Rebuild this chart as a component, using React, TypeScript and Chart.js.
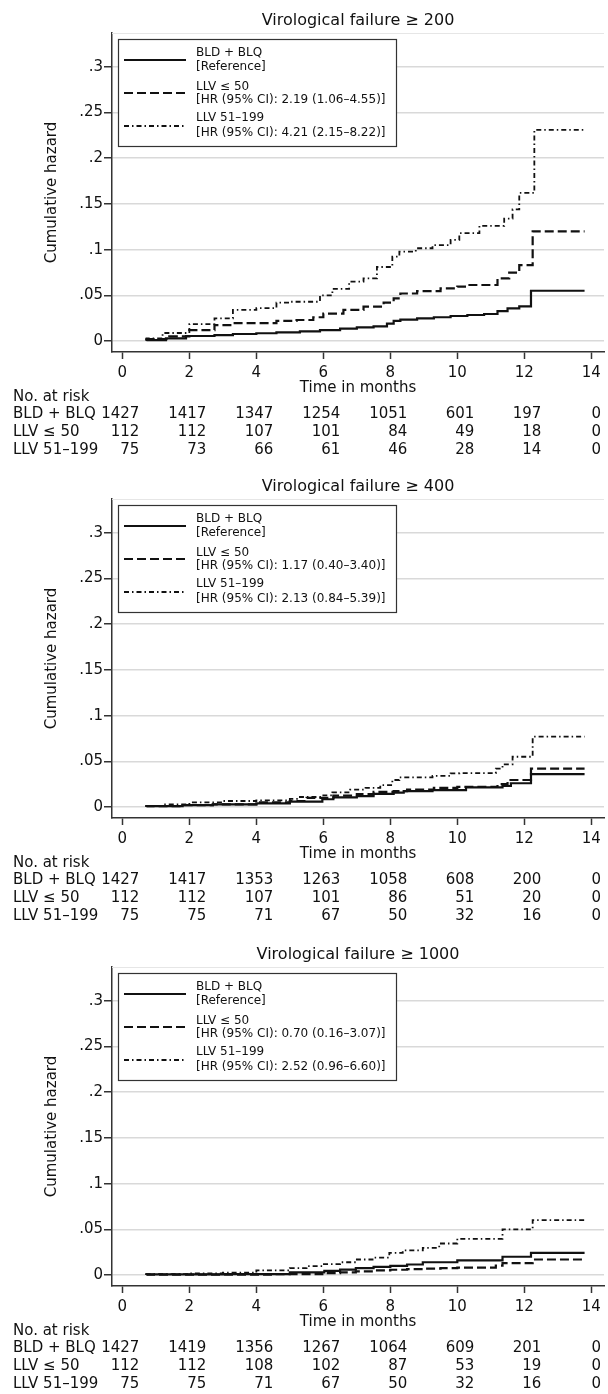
import React, { useEffect, useRef } from "react";
import { Chart, registerables } from "chart.js";

Chart.register(...registerables);

const FONT = "'DejaVu Sans', 'Liberation Sans', sans-serif";

// ---------- shared axis / label data ----------
const xTickValues = [0, 2, 4, 6, 8, 10, 12, 14];
const yTickValues = [0, 0.05, 0.1, 0.15, 0.2, 0.25, 0.3];
const groupLabels = ["BLD + BLQ", "LLV \u2264 50", "LLV 51\u2013199"];
const titles = [
  "Virological failure \u2265 200",
  "Virological failure \u2265 400",
  "Virological failure \u2265 1000",
];
const hrP1 = ["[Reference]", "[HR (95% CI): 2.19 (1.06\u20134.55)]", "[HR (95% CI): 4.21 (2.15\u20138.22)]"];
const hrP2 = ["[Reference]", "[HR (95% CI): 1.17 (0.40\u20133.40)]", "[HR (95% CI): 2.13 (0.84\u20135.39)]"];
const hrP3 = ["[Reference]", "[HR (95% CI): 0.70 (0.16\u20133.07)]", "[HR (95% CI): 2.52 (0.96\u20136.60)]"];

// ---------- panel 1: VF >= 200 ----------
const p1BldT = [0.72, 1.3, 1.9, 2.75, 3.3, 4.0, 4.6, 5.3, 5.9, 6.5, 7.0, 7.5, 7.9, 8.1, 8.3, 8.8, 9.3, 9.8, 10.3, 10.8, 11.2, 11.5, 11.85, 12.2, 12.4, 13.8];
const p1BldH = [0, 0.001, 0.003, 0.0055, 0.0065, 0.0077, 0.0085, 0.0095, 0.0105, 0.012, 0.0135, 0.015, 0.016, 0.019, 0.022, 0.0235, 0.0248, 0.026, 0.0274, 0.0285, 0.0296, 0.0328, 0.0357, 0.038, 0.055, 0.055];
const p1LowT = [0.72, 1.4, 2.0, 2.75, 3.3, 4.6, 5.2, 5.7, 6.0, 6.6, 7.2, 7.8, 8.1, 8.3, 8.8, 9.5, 10.0, 10.3, 11.2, 11.55, 11.85, 12.25, 12.4, 13.8];
const p1LowH = [0.001, 0.002, 0.005, 0.012, 0.0175, 0.0195, 0.022, 0.023, 0.026, 0.03, 0.034, 0.0376, 0.042, 0.0467, 0.052, 0.0545, 0.0575, 0.0595, 0.0613, 0.0686, 0.0748, 0.083, 0.12, 0.12];
const p1MidT = [0.72, 1.2, 2.0, 2.75, 3.3, 4.0, 4.6, 5.0, 5.9, 6.27, 6.77, 7.2, 7.6, 8.06, 8.27, 8.76, 9.26, 9.8, 10.06, 10.66, 11.4, 11.65, 11.85, 12.3, 12.4, 13.8];
const p1MidH = [0.001, 0.003, 0.0088, 0.0186, 0.0248, 0.034, 0.036, 0.042, 0.043, 0.05, 0.057, 0.065, 0.0686, 0.081, 0.0923, 0.0978, 0.1015, 0.105, 0.1106, 0.118, 0.126, 0.134, 0.144, 0.162, 0.231, 0.231];
const p1RiskBld = [1427, 1417, 1347, 1254, 1051, 601, 197, 0];
const p1RiskLow = [112, 112, 107, 101, 84, 49, 18, 0];
const p1RiskMid = [75, 73, 66, 61, 46, 28, 14, 0];

// ---------- panel 2: VF >= 400 ----------
const p2BldT = [0.72, 1.8, 2.7, 4.0, 5.0, 5.97, 6.3, 7.0, 7.5, 8.1, 8.4, 9.26, 10.26, 11.35, 11.6, 12.2, 12.4, 13.8];
const p2BldH = [0, 0.001, 0.002, 0.003, 0.004, 0.006, 0.0085, 0.0105, 0.012, 0.0145, 0.0157, 0.0175, 0.0186, 0.0216, 0.023, 0.026, 0.036, 0.036];
const p2LowT = [0.72, 1.8, 2.7, 4.0, 5.0, 5.5, 6.3, 7.0, 7.5, 8.1, 8.5, 9.3, 10.0, 11.2, 11.5, 12.2, 12.4, 13.8];
const p2LowH = [0, 0.001, 0.002, 0.003, 0.005, 0.0066, 0.01, 0.0125, 0.0142, 0.0165, 0.0175, 0.019, 0.021, 0.022, 0.025, 0.0296, 0.042, 0.042];
const p2MidT = [0.72, 1.2, 2.0, 3.0, 4.0, 5.0, 5.3, 6.0, 6.27, 6.8, 7.26, 7.7, 8.06, 8.27, 9.26, 9.8, 10.06, 11.15, 11.35, 11.65, 12.25, 12.4, 13.8];
const p2MidH = [0, 0.001, 0.003, 0.005, 0.0066, 0.0073, 0.009, 0.011, 0.0128, 0.016, 0.019, 0.021, 0.024, 0.0296, 0.0325, 0.034, 0.0369, 0.037, 0.042, 0.0467, 0.055, 0.077, 0.077];
const p2RiskBld = [1427, 1417, 1353, 1263, 1058, 608, 200, 0];
const p2RiskLow = [112, 112, 107, 101, 86, 51, 20, 0];
const p2RiskMid = [75, 75, 71, 67, 50, 32, 16, 0];

// ---------- panel 3: VF >= 1000 ----------
const p3BldT = [0.72, 3.0, 5.0, 6.03, 6.5, 6.97, 7.5, 8.0, 8.5, 8.97, 10.0, 11.35, 12.2, 12.4, 13.8];
const p3BldH = [0, 0.0007, 0.001, 0.003, 0.0045, 0.006, 0.0075, 0.009, 0.01, 0.0115, 0.014, 0.016, 0.02, 0.0243, 0.0243];
const p3LowT = [0.72, 4.5, 5.97, 6.5, 6.97, 7.5, 8.0, 8.5, 8.97, 9.5, 10.0, 11.15, 11.35, 12.25, 12.4, 13.8];
const p3LowH = [0, 0.0005, 0.001, 0.002, 0.003, 0.004, 0.005, 0.0058, 0.0064, 0.007, 0.0075, 0.0082, 0.0104, 0.013, 0.017, 0.017];
const p3MidT = [0.72, 2.0, 3.0, 4.0, 5.0, 5.5, 5.97, 6.5, 6.97, 7.5, 7.97, 8.37, 8.97, 9.46, 10.0, 11.35, 12.25, 12.4, 13.8];
const p3MidH = [0, 0.001, 0.0018, 0.0026, 0.005, 0.0075, 0.0097, 0.012, 0.014, 0.017, 0.019, 0.0243, 0.027, 0.0298, 0.0345, 0.0396, 0.05, 0.06, 0.06];
const p3RiskBld = [1427, 1419, 1356, 1267, 1064, 609, 201, 0];
const p3RiskLow = [112, 112, 108, 102, 87, 53, 19, 0];
const p3RiskMid = [75, 75, 71, 67, 50, 32, 16, 0];

// ---------- panel assembly ----------
type PanelCfg = {
  title: string;
  hr: string[];
  times: number[][];
  hazards: number[][];
  risk: number[][];
};

const panels: PanelCfg[] = [
  { title: titles[0], hr: hrP1, times: [p1BldT, p1LowT, p1MidT], hazards: [p1BldH, p1LowH, p1MidH], risk: [p1RiskBld, p1RiskLow, p1RiskMid] },
  { title: titles[1], hr: hrP2, times: [p2BldT, p2LowT, p2MidT], hazards: [p2BldH, p2LowH, p2MidH], risk: [p2RiskBld, p2RiskLow, p2RiskMid] },
  { title: titles[2], hr: hrP3, times: [p3BldT, p3LowT, p3MidT], hazards: [p3BldH, p3LowH, p3MidH], risk: [p3RiskBld, p3RiskLow, p3RiskMid] },
];

const panelTops = [0, 466, 934];
const W = 608;
const H = 467;

const lineStyles = [
  { dash: [] as number[], width: 2.2 },
  { dash: [9, 4], width: 2.2 },
  { dash: [5, 3, 1.5, 3], width: 1.8 },
];
const INK = "#111";
const TEXT = "#111";

function fmtY(v: number): string {
  if (Math.abs(v) < 1e-9) return "0";
  return String(+v.toFixed(2)).replace(/^0/, "");
}

function buildConfig(cfg: PanelCfg): any {
  const decor = {
    id: "decor",
    afterDraw(chart: any) {
      const ctx = chart.ctx as CanvasRenderingContext2D;
      const ca = chart.chartArea;
      const xs = chart.scales.x;
      const cx = (ca.left + ca.right) / 2;
      ctx.save();

      // faint top border of plot region
      ctx.strokeStyle = "#e6e6e6";
      ctx.lineWidth = 1;
      ctx.beginPath();
      ctx.moveTo(ca.left, ca.top + 0.5);
      ctx.lineTo(ca.right, ca.top + 0.5);
      ctx.stroke();

      ctx.fillStyle = TEXT;
      ctx.textBaseline = "middle";

      // title
      ctx.font = `16px ${FONT}`;
      ctx.textAlign = "center";
      ctx.fillText(cfg.title, cx, 21);

      // y axis title
      ctx.save();
      ctx.translate(52, (ca.top + ca.bottom) / 2);
      ctx.rotate(-Math.PI / 2);
      ctx.font = `15px ${FONT}`;
      ctx.textAlign = "center";
      ctx.fillText("Cumulative hazard", 0, 0);
      ctx.restore();

      // x axis title
      ctx.font = `15px ${FONT}`;
      ctx.textAlign = "center";
      ctx.fillText("Time in months", cx, 388);

      // number at risk table
      ctx.textAlign = "left";
      ctx.fillText("No. at risk", 13, 397);
      const rowY = [414, 432, 450];
      for (let g = 0; g < 3; g++) {
        ctx.textAlign = "left";
        ctx.fillText(groupLabels[g], 13, rowY[g]);
        ctx.textAlign = "right";
        cfg.risk[g].forEach((n, i) => {
          const px = Math.min(xs.getPixelForValue(xTickValues[i]) + 17, 601);
          ctx.fillText(String(n), px, rowY[g]);
        });
      }

      // legend box
      const lx = 118, ly = 39, lw = 278, lh = 107;
      ctx.fillStyle = "#fff";
      ctx.fillRect(lx, ly, lw, lh);
      ctx.strokeStyle = "#333";
      ctx.lineWidth = 1.2;
      ctx.strokeRect(lx + 0.5, ly + 0.5, lw, lh);
      const itemTop = [53, 87, 118];
      const itemSub = [67, 100, 133];
      const itemLine = [60, 93, 126];
      ctx.font = `12px ${FONT}`;
      for (let g = 0; g < 3; g++) {
        ctx.strokeStyle = INK;
        ctx.lineWidth = lineStyles[g].width;
        ctx.setLineDash(lineStyles[g].dash);
        ctx.beginPath();
        ctx.moveTo(124, itemLine[g]);
        ctx.lineTo(186, itemLine[g]);
        ctx.stroke();
        ctx.setLineDash([]);
        ctx.fillStyle = TEXT;
        ctx.textAlign = "left";
        ctx.fillText(groupLabels[g], 196, itemTop[g]);
        ctx.fillText(cfg.hr[g], 196, itemSub[g]);
      }
      ctx.restore();
    },
  };

  return {
    type: "line",
    data: {
      datasets: cfg.times.map((ts, g) => ({
        label: groupLabels[g],
        data: ts.map((t, i) => ({ x: t, y: cfg.hazards[g][i] })),
        stepped: "after",
        borderColor: INK,
        borderWidth: lineStyles[g].width,
        borderDash: lineStyles[g].dash,
        pointRadius: 0,
        fill: false,
        tension: 0,
      })),
    },
    options: {
      animation: false,
      responsive: false,
      maintainAspectRatio: false,
      layout: { padding: { top: 33, right: 4, left: 0, bottom: 0 } },
      plugins: {
        legend: { display: false },
        tooltip: { enabled: false },
        title: { display: false },
      },
      scales: {
        x: {
          type: "linear",
          min: -0.31,
          max: 14.38,
          afterBuildTicks: (s: any) => {
            s.ticks = xTickValues.map((v) => ({ value: v }));
          },
          afterFit: (s: any) => {
            s.height = H - 352;
          },
          grid: { drawOnChartArea: false, drawTicks: true, tickLength: 7, tickColor: "#333", tickWidth: 1.5 },
          border: { display: true, color: "#333", width: 1.5 },
          ticks: { font: { family: FONT, size: 15 }, color: TEXT, padding: 5, maxRotation: 0, autoSkip: false },
        },
        y: {
          type: "linear",
          min: -0.012,
          max: 0.337,
          afterBuildTicks: (s: any) => {
            s.ticks = yTickValues.map((v) => ({ value: v }));
          },
          afterFit: (s: any) => {
            s.width = 112;
          },
          grid: { color: "#d9d9d9", lineWidth: 1.5, drawTicks: true, tickLength: 8, tickColor: "#333", tickWidth: 1.5 },
          border: { display: true, color: "#333", width: 1.5 },
          ticks: { font: { family: FONT, size: 15 }, color: TEXT, padding: 1, callback: (v: any) => fmtY(Number(v)) },
        },
      },
    },
    plugins: [decor],
  };
}

function Panel({ cfg, top }: { cfg: PanelCfg; top: number }) {
  const ref = useRef<HTMLCanvasElement>(null);
  useEffect(() => {
    const chart = new Chart(ref.current as HTMLCanvasElement, buildConfig(cfg));
    return () => chart.destroy();
  }, [cfg]);
  return (
    <canvas
      ref={ref}
      width={W}
      height={H}
      style={{ position: "absolute", left: 0, top, width: W, height: H, display: "block" }}
    />
  );
}

export default function App() {
  return (
    <div
      style={{
        position: "absolute",
        left: 0,
        top: 0,
        width: W,
        height: 1394,
        overflow: "hidden",
        background: "#fff",
      }}
    >
      {panels.map((p, i) => (
        <Panel key={i} cfg={p} top={panelTops[i]} />
      ))}
    </div>
  );
}
